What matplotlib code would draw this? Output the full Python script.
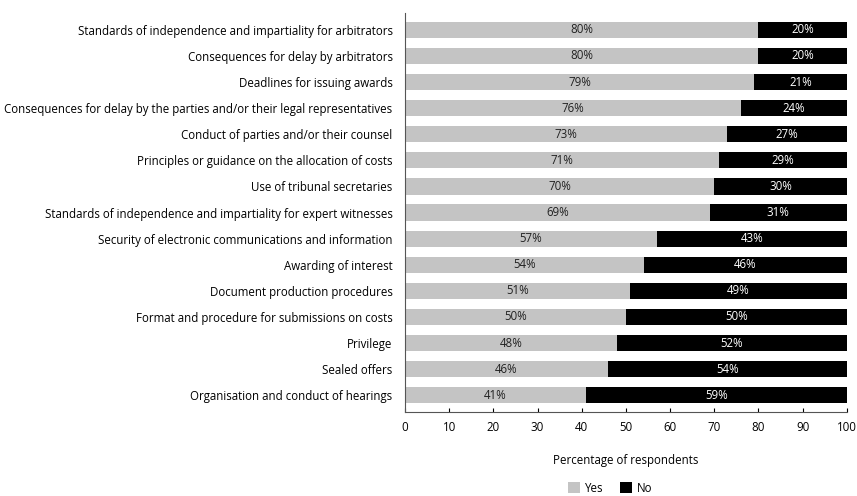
import matplotlib.pyplot as plt
import numpy as np

plt.rcParams['font.family'] = ['Open Sans', 'DejaVu Sans']

categories = [
    "Standards of independence and impartiality for arbitrators",
    "Consequences for delay by arbitrators",
    "Deadlines for issuing awards",
    "Consequences for delay by the parties and/or their legal representatives",
    "Conduct of parties and/or their counsel",
    "Principles or guidance on the allocation of costs",
    "Use of tribunal secretaries",
    "Standards of independence and impartiality for expert witnesses",
    "Security of electronic communications and information",
    "Awarding of interest",
    "Document production procedures",
    "Format and procedure for submissions on costs",
    "Privilege",
    "Sealed offers",
    "Organisation and conduct of hearings",
]
yes = [80, 80, 79, 76, 73, 71, 70, 69, 57, 54, 51, 50, 48, 46, 41]
no = [20, 20, 21, 24, 27, 29, 30, 31, 43, 46, 49, 50, 52, 54, 59]

fs = 8.3
fig = plt.figure(figsize=(8.57, 4.96), dpi=100)
ax = fig.add_axes([0.4726, 0.169, 0.5154, 0.805])

y = np.arange(len(categories))
h = 0.62
b1 = ax.barh(y, yes, height=h, color='#c4c4c4', label='Yes')
b2 = ax.barh(y, no, left=yes, height=h, color='black', label='No')

for i in range(len(categories)):
    ax.text(yes[i] / 2, y[i], f"{yes[i]}%", ha='center', va='center', fontsize=fs, color='#222222')
    ax.text(yes[i] + no[i] / 2, y[i], f"{no[i]}%", ha='center', va='center', fontsize=fs, color='white')

ax.set_yticks(y)
ax.set_yticklabels(categories, fontsize=fs)
ax.set_ylim(len(categories) - 0.35, -0.65)
ax.set_xlim(0, 100)
ax.set_xticks(range(0, 101, 10))
ax.tick_params(axis='x', direction='in', length=3, labelsize=fs, pad=6)
ax.tick_params(axis='y', length=0, pad=9)
ax.spines['top'].set_visible(False)
ax.spines['right'].set_visible(False)
ax.spines['left'].set_color('#555555')
ax.spines['bottom'].set_color('#555555')
ax.set_xlabel('Percentage of respondents', fontsize=fs, labelpad=15)

fig.legend(handles=[b1, b2], labels=['Yes', 'No'], loc='center', bbox_to_anchor=(0.712, 0.016),
           ncol=2, frameon=False, fontsize=fs, handlelength=1.0, handleheight=1.0,
           handletextpad=0.4, columnspacing=1.5)

fig.savefig('out.png')
